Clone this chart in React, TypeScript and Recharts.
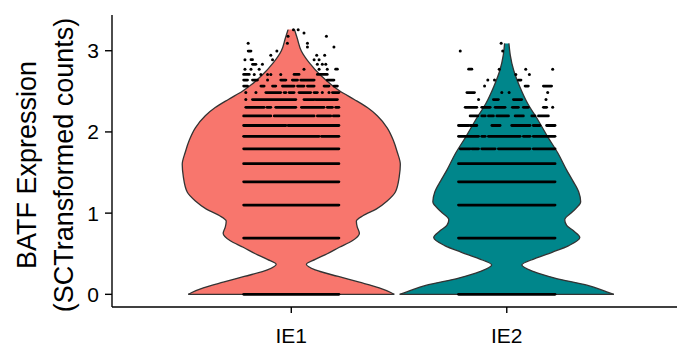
import React from "react";
import {
  ComposedChart,
  Area,
  Scatter,
  XAxis,
  YAxis,
  ReferenceLine,
} from "recharts";

const categories = ["IE1", "IE2"];
const yTicks = [0, 1, 2, 3];

// violin outlines: expression level -> half width (category units)
const ie1Levels = [0, 0.02, 0.08, 0.15, 0.22, 0.3, 0.37, 0.43, 0.5, 0.58, 0.66, 0.75, 0.83, 0.9, 0.97, 1.05, 1.15, 1.26, 1.45, 1.6, 1.75, 1.9, 2.05, 2.2, 2.3, 2.4, 2.5, 2.58, 2.7, 2.85, 3.0, 3.15, 3.26];
const ie1Half = [0.478, 0.464, 0.408, 0.316, 0.218, 0.111, 0.07, 0.111, 0.167, 0.223, 0.283, 0.316, 0.306, 0.302, 0.334, 0.394, 0.445, 0.483, 0.501, 0.506, 0.492, 0.473, 0.445, 0.399, 0.353, 0.292, 0.227, 0.186, 0.135, 0.084, 0.046, 0.028, 0.015];

const ie2Levels = [0, 0.03, 0.11, 0.2, 0.28, 0.36, 0.44, 0.52, 0.6, 0.7, 0.78, 0.85, 0.92, 1.02, 1.14, 1.26, 1.4, 1.53, 1.74, 1.94, 2.15, 2.35, 2.56, 2.76, 2.95, 3.09];
const ie2Half = [0.497, 0.464, 0.376, 0.223, 0.125, 0.07, 0.13, 0.213, 0.288, 0.339, 0.311, 0.278, 0.269, 0.306, 0.343, 0.334, 0.306, 0.278, 0.237, 0.19, 0.144, 0.097, 0.06, 0.032, 0.016, 0.01];

// jittered cells: expression level -> runs of points (offset from category centre)
const ie1DotLevels = [0, 0.693, 1.099, 1.386, 1.609, 1.792, 1.946, 2.079, 2.197, 2.303, 2.398, 2.485, 2.565, 2.639, 2.708, 2.773, 2.833, 2.89, 2.944, 2.996, 3.045, 3.091, 3.178, 3.219, 3.258];
const ie1DotRuns = [
  [[-0.221, 0.221]],
  [[-0.221, 0.221]],
  [[-0.221, 0.221]],
  [[-0.221, 0.221]],
  [[-0.221, 0.221]],
  [[-0.221, 0.221]],
  [[-0.221, 0.129], [0.14, 0.221]],
  [[-0.221, -0.025], [-0.015, 0.221]],
  [[-0.221, -0.095], [-0.079, 0.106], [0.121, 0.183], [0.195, 0.221]],
  [[-0.211, -0.126], [-0.113, -0.095], [-0.072, 0.021], [0.047, 0.152], [0.167, 0.191], [0.206, 0.221]],
  [[-0.211], [-0.18, 0.021], [0.059, 0.106], [0.113, 0.214]],
  [[-0.211], [-0.164], [-0.118, -0.049], [-0.033, -0.025], [-0.01, 0.013], [0.036, 0.09], [0.106, 0.121], [0.144], [0.175], [0.191, 0.221]],
  [[-0.221, -0.203], [-0.141, -0.126], [-0.087, -0.072], [-0.041, 0.013], [0.029, 0.059], [0.075, 0.106], [0.152, 0.175], [0.198, 0.214]],
  [[-0.221, -0.203], [-0.18, -0.157], [-0.11], [-0.049, -0.025], [0.005, 0.029], [0.044, 0.106], [0.167, 0.198]],
  [[-0.221, -0.195], [-0.172], [-0.141], [-0.11], [-0.095], [-0.049], [0.013, 0.036], [0.121, 0.167]],
  [[-0.215], [-0.187], [-0.149], [0.059], [0.129], [0.167], [0.206, 0.214]],
  [[-0.18, -0.164], [-0.134], [0.121], [0.144], [0.16]],
  [[-0.215], [-0.187, -0.18], [-0.087], [0.106], [0.129]],
  [[-0.095], [0.118], [0.155]],
  [[-0.2, -0.187], [-0.067]],
  [[0.075], [0.198]],
  [[-0.2], [-0.018], [0.075]],
  [[-0.015], [0.163]],
  [[0.059]],
  [[0.01], [0.032]],
];

const ie2DotLevels = [0, 0.693, 1.099, 1.386, 1.609, 1.792, 1.946, 2.079, 2.197, 2.303, 2.398, 2.485, 2.565, 2.639, 2.708, 2.773, 2.996, 3.091];
const ie2DotRuns = [
  [[-0.224, 0.224]],
  [[-0.224, 0.224]],
  [[-0.224, 0.224]],
  [[-0.224, 0.224]],
  [[-0.224, 0.224]],
  [[-0.216, -0.17], [-0.162, -0.131], [-0.116, -0.054], [-0.039, 0.108], [0.123, 0.224]],
  [[-0.224, -0.131], [-0.116, -0.1], [-0.085, 0.062], [0.077, 0.108], [0.123, 0.224]],
  [[-0.224, -0.177], [-0.17, -0.139], [-0.069, -0.031], [0.023, 0.108], [0.123, 0.154], [0.185, 0.224]],
  [[-0.17, -0.134], [-0.116, -0.1], [-0.085, -0.062], [-0.046, 0.008], [0.039, 0.077], [0.116, 0.131], [0.147, 0.193]],
  [[-0.193, -0.139], [-0.116, -0.077], [-0.054, -0.008], [0.026, 0.054], [0.077, 0.1], [0.17, 0.185], [0.213]],
  [[-0.131], [-0.062, -0.039], [0.031, 0.069], [0.182]],
  [[-0.185, -0.15], [-0.023], [0.011], [0.19]],
  [[-0.103], [0.085, 0.1], [0.17, 0.208]],
  [[-0.088], [-0.057], [0.054, 0.066]],
  [[0.042], [0.105]],
  [[-0.177, -0.162], [-0.035], [0.088], [0.213]],
  [[-0.216], [-0.019]],
  [[-0.026]],
];

const COLORS = ["#F8766D", "#00868B"];

type Row = { y: number; ie1?: number[]; ie2?: number[] };

// one table for both violins; each row only carries the violin it belongs to
const violinRows: Row[] = [
  ...ie1Levels
    .map((y, i) => ({ y, ie1: [1 - ie1Half[i], 1 + ie1Half[i]] }))
    .reverse(),
  ...ie2Levels
    .map((y, i) => ({ y, ie2: [2 - ie2Half[i], 2 + ie2Half[i]] }))
    .reverse(),
];

function buildMarks(center: number, levels: number[], runs: number[][][]) {
  const segs: { y: number; x1: number; x2: number }[] = [];
  const dots: { x: number; y: number }[] = [];
  levels.forEach((y, i) => {
    runs[i].forEach((r) => {
      if (r.length === 2) segs.push({ y, x1: center + r[0], x2: center + r[1] });
      else dots.push({ x: center + r[0], y });
    });
  });
  return { segs, dots };
}

const ie1Marks = buildMarks(1, ie1DotLevels, ie1DotRuns);
const ie2Marks = buildMarks(2, ie2DotLevels, ie2DotRuns);
const allSegs = [...ie1Marks.segs, ...ie2Marks.segs];
const allDots = [...ie1Marks.dots, ...ie2Marks.dots];

// flat ends of the trimmed violins
const violinEnds = [
  { y: ie1Levels[0], x1: 1 - ie1Half[0], x2: 1 + ie1Half[0] },
  { y: ie2Levels[0], x1: 2 - ie2Half[0], x2: 2 + ie2Half[0] },
];

const YTitle = (props: any) => {
  const vb = props.viewBox || { x: 0, y: 0, width: 0, height: 0 };
  const cy = vb.y + vb.height / 2 + 4;
  return (
    <text
      transform={`translate(${vb.x}, ${cy}) rotate(-90)`}
      textAnchor="middle"
      fontSize={27}
      fill="#000"
    >
      <tspan x={0} y={36}>
        BATF Expression
      </tspan>
      <tspan x={0} y={73}>
        (SCTransformed counts)
      </tspan>
    </text>
  );
};

const renderDot = (p: any) => (
  <circle cx={p.cx} cy={p.cy} r={1.5} fill="#000" />
);

export default function App() {
  return (
    <div
      style={{
        position: "absolute",
        left: 0,
        top: 0,
        width: 677,
        height: 350,
        background: "#fff",
        fontFamily: '"Liberation Sans", Arial, sans-serif',
      }}
    >
      <ComposedChart
        width={677}
        height={350}
        layout="vertical"
        data={violinRows}
        margin={{ top: 15, right: 0, bottom: 0, left: 0 }}
      >
        <XAxis
          type="number"
          dataKey="x"
          domain={[0.168, 2.79]}
          allowDataOverflow
          ticks={[1, 2]}
          tickFormatter={(v: number) => categories[v - 1]}
          height={43}
          tickSize={6}
          tickMargin={15}
          axisLine={{ stroke: "#000", strokeWidth: 1.4 }}
          tickLine={{ stroke: "#000", strokeWidth: 1.4 }}
          tick={{ fill: "#000", fontSize: 21 }}
        />
        <YAxis
          type="number"
          dataKey="y"
          reversed
          domain={[-0.156, 3.44]}
          allowDataOverflow
          ticks={yTicks}
          width={112}
          tickSize={7}
          tickMargin={6}
          axisLine={{ stroke: "#000", strokeWidth: 1.4 }}
          tickLine={{ stroke: "#000", strokeWidth: 1.4 }}
          tick={{ fill: "#000", fontSize: 21 }}
          label={{ content: YTitle }}
        />
        <Area
          dataKey={(r: Row) => r.ie1 ?? [null, null]}
          type="monotone"
          connectNulls
          fill={COLORS[0]}
          fillOpacity={1}
          stroke="#333"
          strokeWidth={1.3}
          isAnimationActive={false}
        />
        <Area
          dataKey={(r: Row) => r.ie2 ?? [null, null]}
          type="monotone"
          connectNulls
          fill={COLORS[1]}
          fillOpacity={1}
          stroke="#333"
          strokeWidth={1.3}
          isAnimationActive={false}
        />
        {violinEnds.map((e, i) => (
          <ReferenceLine
            key={`end-${i}`}
            segment={[
              { x: e.x1, y: e.y },
              { x: e.x2, y: e.y },
            ]}
            stroke="#333"
            strokeWidth={1.3}
            ifOverflow="visible"
          />
        ))}
        {allSegs.map((s, i) => (
          <ReferenceLine
            key={`seg-${i}`}
            segment={[
              { x: s.x1, y: s.y },
              { x: s.x2, y: s.y },
            ]}
            stroke="#000"
            strokeWidth={2.8}
            strokeLinecap="round"
            ifOverflow="visible"
          />
        ))}
        <Scatter
          data={allDots}
          shape={renderDot}
          isAnimationActive={false}
        />
      </ComposedChart>
    </div>
  );
}
